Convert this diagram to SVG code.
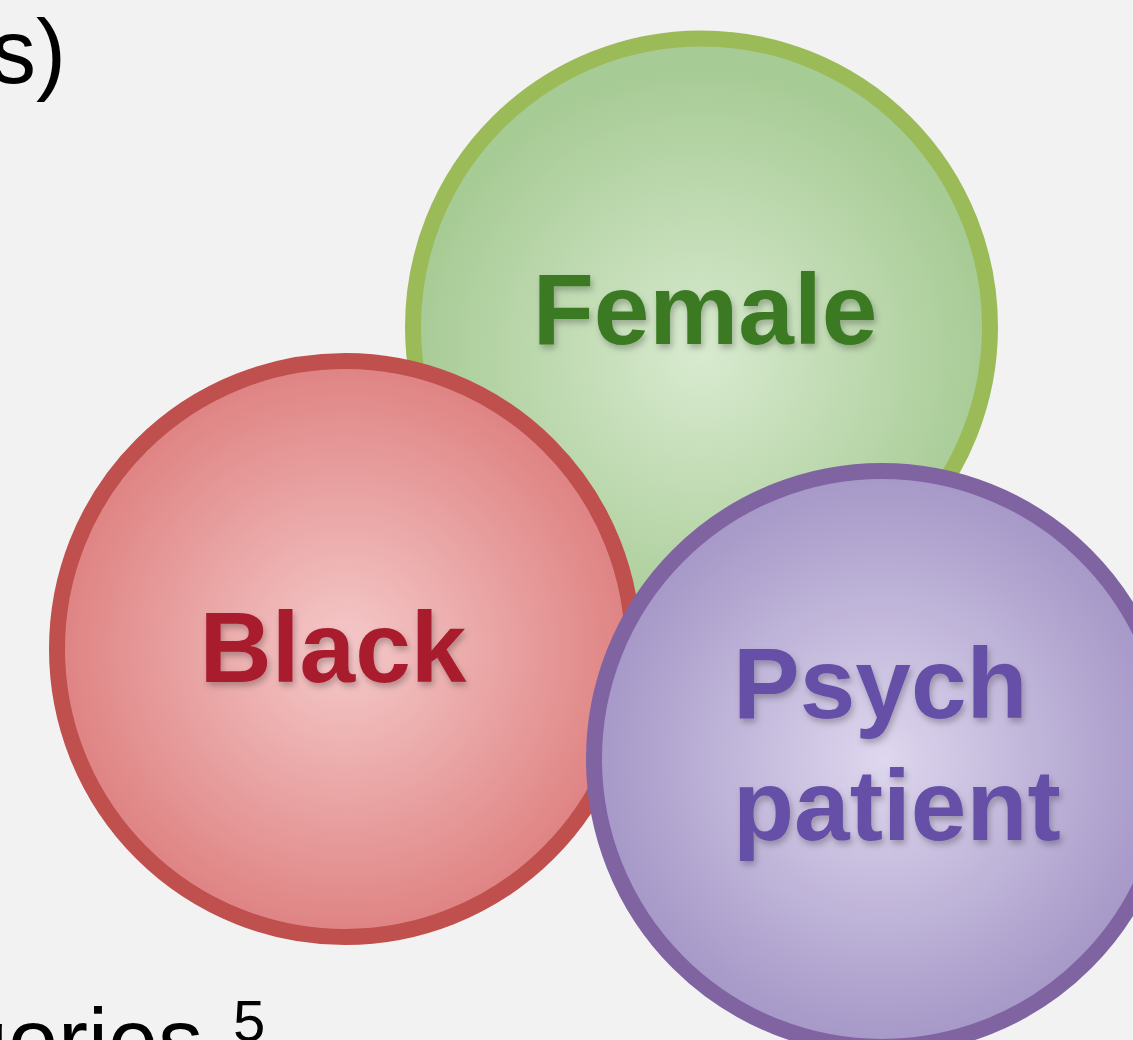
<svg xmlns="http://www.w3.org/2000/svg" width="1133" height="1040" viewBox="0 0 1133 1040">
<style>
.lbl{font-family:"Liberation Sans",Arial,sans-serif;font-weight:bold;font-size:100px;filter:url(#sh)}
.body{font-family:"Liberation Sans",Arial,sans-serif;fill:#000}
</style>
<defs>
<radialGradient id="gG" cx="50%" cy="55%" r="50%"><stop offset="0" stop-color="#d8eacf"/><stop offset="1" stop-color="#a7cb95"/></radialGradient>
<radialGradient id="gR" cx="50%" cy="50%" r="50%"><stop offset="0" stop-color="#f5c9c9"/><stop offset="1" stop-color="#df8282"/></radialGradient>
<radialGradient id="gP" cx="50%" cy="50%" r="50%"><stop offset="0" stop-color="#ded7ee"/><stop offset="1" stop-color="#a597c7"/></radialGradient>
<filter id="sh" x="-10%" y="-20%" width="120%" height="150%"><feDropShadow dx="2" dy="4" stdDeviation="3" flood-color="#000" flood-opacity="0.25"/></filter>
</defs>
<rect width="1133" height="1040" fill="#f2f2f2"/>
<text class="body" x="66" y="83" font-size="90" text-anchor="end">s)</text>
<text class="body" x="203" y="1072" font-size="90" text-anchor="end">gories</text>
<text class="body" x="233" y="1041" font-size="58">5</text>
<g id="female">
<circle cx="701.5" cy="327" r="288.5" fill="url(#gG)" stroke="#9bbb59" stroke-width="16"/>
<text class="lbl" x="705" y="344" text-anchor="middle" fill="#3b7a23">Female</text>
</g>
<g id="black">
<circle cx="345" cy="649" r="288" fill="url(#gR)" stroke="#c0504d" stroke-width="16"/>
<text class="lbl" x="333" y="682" text-anchor="middle" fill="#a91e2e">Black</text>
</g>
<g id="psych">
<circle cx="882" cy="759" r="288" fill="url(#gP)" stroke="#8064a2" stroke-width="16"/>
<text class="lbl" x="733" y="718" fill="#6650a6">Psych</text>
<text class="lbl" x="733" y="840" fill="#6650a6">patient</text>
</g>
<g id="connectors"/>
</svg>
